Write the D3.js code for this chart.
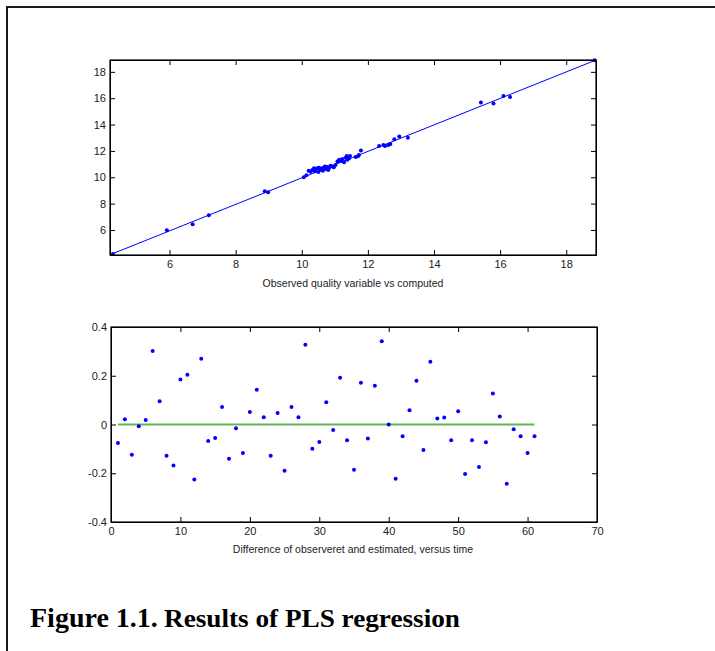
<!DOCTYPE html>
<html lang="en">
<head>
<meta charset="utf-8">
<title>Results of PLS regression</title>
<script src="https://cdn.jsdelivr.net/npm/d3@7"></script>
<style>
  body { margin: 0; background: white; }
  svg { display: block; }
  .tick text { font-family: "Liberation Sans", Arial, sans-serif; font-size: 11px; fill: #222; }
</style>
</head>
<body>
<div id="canvas"></div>
<script>
// observed vs computed (top panel)
var observed = [4.29, 5.92, 6.70, 7.19, 8.88, 8.98, 10.06, 10.14, 10.21, 10.27, 10.32, 10.37, 10.40, 10.42,
  10.47, 10.50, 10.52, 10.55, 10.57, 10.62, 10.64, 10.67, 10.70, 10.72, 10.77, 10.80, 10.82, 10.87, 10.92,
  10.97, 11.02, 11.08, 11.13, 11.18, 11.23, 11.28, 11.33, 11.36, 11.38, 11.43, 11.46, 11.63, 11.70, 11.73,
  11.79, 12.34, 12.47, 12.52, 12.62, 12.68, 12.80, 12.95, 13.21, 15.42, 15.80, 16.10, 16.30, 18.86];
var computed = [4.18, 5.98, 6.43, 7.12, 8.94, 8.86, 10.00, 10.16, 10.50, 10.42, 10.56, 10.68, 10.45, 10.61,
  10.68, 10.40, 10.73, 10.55, 10.63, 10.68, 10.50, 10.73, 10.82, 10.63, 10.78, 10.55, 10.68, 10.88, 10.81,
  10.76, 10.94, 11.19, 11.32, 11.24, 11.39, 11.14, 11.49, 11.62, 11.32, 11.44, 11.62, 11.54, 11.60, 11.69,
  12.03, 12.38, 12.45, 12.38, 12.45, 12.52, 12.89, 13.09, 12.99, 15.67, 15.60, 16.17, 16.10, 18.88];
var fitX = [4.2, 18.9];
var fitY = [4.12, 18.9];
var topTicks = [6, 8, 10, 12, 14, 16, 18];

// residuals over time (bottom panel)
var residuals = [-0.076, 0.022, -0.124, -0.007, 0.018, 0.302, 0.095, -0.128, -0.168, 0.185,
  0.204, -0.226, 0.270, -0.068, -0.055, 0.072, -0.141, -0.015, -0.117, 0.051,
  0.143, 0.030, -0.128, 0.047, -0.190, 0.072, 0.030, 0.327, -0.099, -0.072,
  0.091, -0.023, 0.192, -0.065, -0.186, 0.171, -0.057, 0.159, 0.342, 0.000,
  -0.223, -0.048, 0.058, 0.179, -0.105, 0.257, 0.025, 0.029, -0.065, 0.054,
  -0.203, -0.065, -0.174, -0.073, 0.127, 0.033, -0.243, -0.019, -0.048, -0.117, -0.048];
var timeTicks = [0, 10, 20, 30, 40, 50, 60, 70];
var resTicks = [-0.4, -0.2, 0, 0.2, 0.4];

var W = 715, H = 651;
var svg = d3.select("#canvas").append("svg").attr("width", W).attr("height", H);

// page frame
svg.append("rect").attr("x", 7).attr("y", 7).attr("width", W + 10).attr("height", H + 10)
  .attr("fill", "none").attr("stroke", "black").attr("stroke-width", 1.8);

function boxAxes(g, x, y, xt, yt, fmt) {
  var x0 = x.range()[0], x1 = x.range()[1], y0 = y.range()[0], y1 = y.range()[1];
  g.append("g").attr("transform", "translate(0," + y0 + ")")
    .call(d3.axisBottom(x).tickValues(xt).tickSizeInner(-5).tickSizeOuter(0).tickPadding(5));
  g.append("g").attr("transform", "translate(0," + y1 + ")")
    .call(d3.axisTop(x).tickValues(xt).tickSizeInner(-5).tickSizeOuter(0).tickFormat(""));
  g.append("g").attr("transform", "translate(" + x0 + ",0)")
    .call(d3.axisLeft(y).tickValues(yt).tickSizeInner(-5).tickSizeOuter(0).tickPadding(4).tickFormat(fmt));
  g.append("g").attr("transform", "translate(" + x1 + ",0)")
    .call(d3.axisRight(y).tickValues(yt).tickSizeInner(-5).tickSizeOuter(0).tickFormat(""));
  g.selectAll(".domain").attr("stroke", "black");
  g.selectAll(".tick line").attr("stroke", "black");
  g.append("rect").attr("x", x0).attr("y", y1).attr("width", x1 - x0).attr("height", y0 - y1)
    .attr("fill", "none").attr("stroke", "black").attr("stroke-width", 1.2);
}

function label(txt, cx, cy) {
  svg.append("text").attr("x", cx).attr("y", cy).attr("text-anchor", "middle")
    .style("font-family", "Liberation Sans, Arial, sans-serif").style("font-size", "10.5px")
    .attr("fill", "#222").text(txt);
}

// top panel
var x1s = d3.scaleLinear().domain([4.2, 18.9]).range([110, 596]);
var y1s = d3.scaleLinear().domain([4.1, 18.9]).range([255, 60]);
var topPanel = svg.append("g");
topPanel.append("line")
  .attr("x1", x1s(fitX[0])).attr("y1", y1s(fitY[0]))
  .attr("x2", x1s(fitX[1])).attr("y2", y1s(fitY[1]))
  .attr("stroke", "#0000ff").attr("stroke-width", 1);
topPanel.selectAll("circle").data(observed).enter().append("circle")
  .attr("cx", function(d) { return x1s(d); })
  .attr("cy", function(d, i) { return y1s(computed[i]); })
  .attr("r", 2).attr("fill", "#0000ff");
boxAxes(topPanel, x1s, y1s, topTicks, topTicks, d3.format("d"));
label("Observed quality variable vs computed", 353, 287);

// bottom panel
var x2s = d3.scaleLinear().domain([0, 70]).range([111, 597]);
var y2s = d3.scaleLinear().domain([-0.4, 0.4]).range([522, 327]);
var botPanel = svg.append("g");
botPanel.append("line")
  .attr("x1", x2s(1)).attr("x2", x2s(residuals.length))
  .attr("y1", y2s(0)).attr("y2", y2s(0))
  .attr("stroke", "#62b55a").attr("stroke-width", 2);
botPanel.selectAll("circle").data(residuals).enter().append("circle")
  .attr("cx", function(d, i) { return x2s(i + 1); })
  .attr("cy", function(d) { return y2s(d); })
  .attr("r", 2).attr("fill", "#0000ff");
boxAxes(botPanel, x2s, y2s, timeTicks, resTicks, function(d) {
  return d === 0 ? "0" : d3.format(".1f")(d).replace("\u2212", "-");
});
label("Difference of observeret and estimated, versus time", 353, 553);

// caption
svg.append("text").attr("x", 30).attr("y", 627)
  .style("font-family", "Liberation Serif, Times New Roman, serif").style("font-weight", "bold")
  .style("font-size", "28px").attr("fill", "black").text("Figure 1.1.");
svg.append("text").attr("x", 164).attr("y", 627)
  .style("font-family", "Liberation Serif, Times New Roman, serif").style("font-weight", "bold")
  .style("font-size", "25px").attr("fill", "black")
  .attr("textLength", 296).attr("lengthAdjust", "spacingAndGlyphs")
  .text("Results of PLS regression");
</script>
</body>
</html>
